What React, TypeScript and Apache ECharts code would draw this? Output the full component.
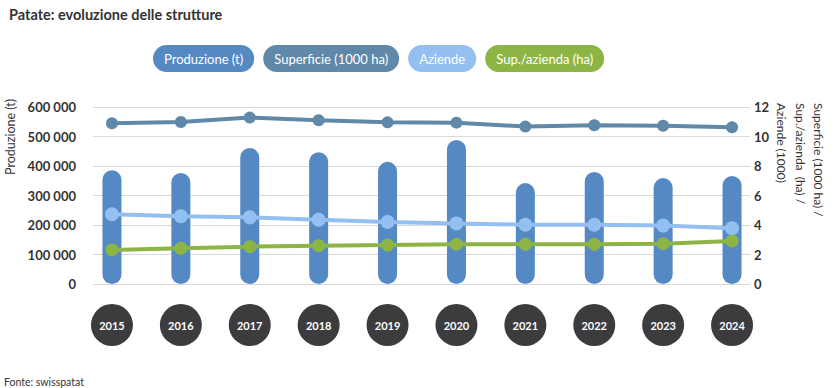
import React, { useEffect, useRef } from "react";
import * as echarts from "echarts";

const years = ["2015", "2016", "2017", "2018", "2019", "2020", "2021", "2022", "2023", "2024"];
const produzione = [386000, 376000, 461000, 447000, 414000, 488000, 342000, 380000, 359000, 366000];
const superficie = [10.9, 10.98, 11.28, 11.1, 10.96, 10.94, 10.67, 10.76, 10.73, 10.62];
const aziende = [4.73, 4.59, 4.52, 4.36, 4.2, 4.11, 4.02, 4.02, 3.96, 3.78];
const supAzienda = [2.31, 2.42, 2.53, 2.6, 2.64, 2.69, 2.69, 2.69, 2.73, 2.92];

const seriesNames = ["Produzione (t)", "Superficie (1000 ha)", "Aziende", "Sup./azienda (ha)"];
const colors = ["#5589c4", "#5f88a9", "#93bff1", "#8db545"];

const FONT = "Lato, 'Noto Sans', sans-serif";

const fmt = (v: number) => String(v).replace(/\B(?=(\d{3})+(?!\d))/g, " ");

export default function App() {
  const ref = useRef<HTMLDivElement>(null);
  useEffect(() => {
    document.body.style.margin = "0";
    const chart = echarts.init(ref.current!, null, { renderer: "svg" });
    const gridTop = 107;
    const gridBottom = 104;
    chart.setOption({
      animation: false,
      textStyle: { fontFamily: FONT },
      title: {
        text: "Patate: evoluzione delle strutture",
        left: 4,
        top: 2,
        textStyle: { fontFamily: FONT, fontSize: 14.5, fontWeight: "bold", color: "#333" },
      },
      legend: {
        left: 148,
        top: 45,
        padding: 0,
        itemWidth: 0,
        itemHeight: 0,
        itemGap: 4,
        selectedMode: false,
        data: seriesNames.map((n, i) => ({
          name: n,
          icon: "rect",
          textStyle: {
            color: "#fff",
            fontFamily: FONT,
            fontSize: 13,
            backgroundColor: colors[i],
            borderRadius: 14,
            padding: [7, 11, 7, 11],
          },
        })),
      },
      grid: [
        { left: 93, right: 86, top: gridTop, bottom: gridBottom },
        { left: 77.5, right: 69.5, top: gridTop, bottom: gridBottom },
      ],
      xAxis: [
        { type: "category", gridIndex: 0, data: years, show: false },
        {
          type: "category",
          gridIndex: 1,
          data: years,
          boundaryGap: true,
          axisLine: { show: false },
          axisTick: { show: false },
          axisLabel: {
            margin: 20,
            color: "#fff",
            fontFamily: FONT,
            fontWeight: "bold",
            fontSize: 11,
            backgroundColor: "#3c3c3e",
            borderRadius: 21,
            width: 42,
            height: 42,
            lineHeight: 42,
            align: "center",
          },
        },
      ],
      yAxis: [
        {
          type: "value",
          gridIndex: 0,
          position: "left",
          min: 0,
          max: 600000,
          interval: 100000,
          axisLine: { show: false },
          axisTick: { show: false },
          splitLine: { lineStyle: { color: "#d9d9d9", width: 1 } },
          axisLabel: {
            margin: 17,
            color: "#333",
            fontWeight: "bold",
            fontSize: 13,
            fontFamily: FONT,
            formatter: (v: number) => fmt(v),
          },
        },
        {
          type: "value",
          gridIndex: 0,
          position: "right",
          min: 0,
          max: 12,
          interval: 2,
          axisLine: { show: false },
          axisTick: { show: false },
          splitLine: { show: false },
          axisLabel: { margin: 4, color: "#333", fontWeight: "bold", fontSize: 13, fontFamily: FONT },
        },
        { type: "value", gridIndex: 1, min: 0, max: 600000, interval: 100000, show: false },
        { type: "value", gridIndex: 1, position: "right", min: 0, max: 12, interval: 2, show: false },
      ],
      graphic: [
        {
          type: "text",
          x: 4,
          y: 175,
          rotation: Math.PI / 2,
          style: { text: "Produzione (t)", fill: "#333", fontSize: 12.5, fontFamily: FONT, textAlign: "left", textVerticalAlign: "top" },
        },
        {
          type: "text",
          x: 828,
          y: 103,
          rotation: -Math.PI / 2,
          style: {
            text: "Superficie (1000 ha) /\nSup./azienda  (ha) /\nAziende (1000)",
            fill: "#333",
            fontSize: 12,
            lineHeight: 18.5,
            fontFamily: FONT,
            textAlign: "left",
            textVerticalAlign: "top",
          },
        },
        {
          type: "text",
          x: 4,
          y: 376,
          style: { text: "Fonte: swisspatat", fill: "#333", fontSize: 10.5, fontFamily: FONT },
        },
      ],
      series: [
        {
          name: seriesNames[0],
          type: "bar",
          xAxisIndex: 1,
          yAxisIndex: 2,
          data: produzione,
          barWidth: 19,
          clip: false,
          itemStyle: { color: colors[0], borderRadius: 10 },
          z: 1,
        },
        {
          name: seriesNames[1],
          type: "line",
          xAxisIndex: 1,
          yAxisIndex: 3,
          data: superficie,
          symbol: "circle",
          symbolSize: 12,
          clip: false,
          lineStyle: { color: colors[1], width: 4 },
          itemStyle: { color: colors[1] },
          z: 3,
        },
        {
          name: seriesNames[2],
          type: "line",
          xAxisIndex: 1,
          yAxisIndex: 3,
          data: aziende,
          symbol: "circle",
          symbolSize: 14,
          clip: false,
          lineStyle: { color: colors[2], width: 4 },
          itemStyle: { color: colors[2] },
          z: 3,
        },
        {
          name: seriesNames[3],
          type: "line",
          xAxisIndex: 1,
          yAxisIndex: 3,
          data: supAzienda,
          symbol: "circle",
          symbolSize: 13,
          clip: false,
          lineStyle: { color: colors[3], width: 4 },
          itemStyle: { color: colors[3] },
          z: 3,
        },
      ],
    });
    return () => chart.dispose();
  }, []);
  return <div ref={ref} style={{ width: 836, height: 388 }} />;
}
